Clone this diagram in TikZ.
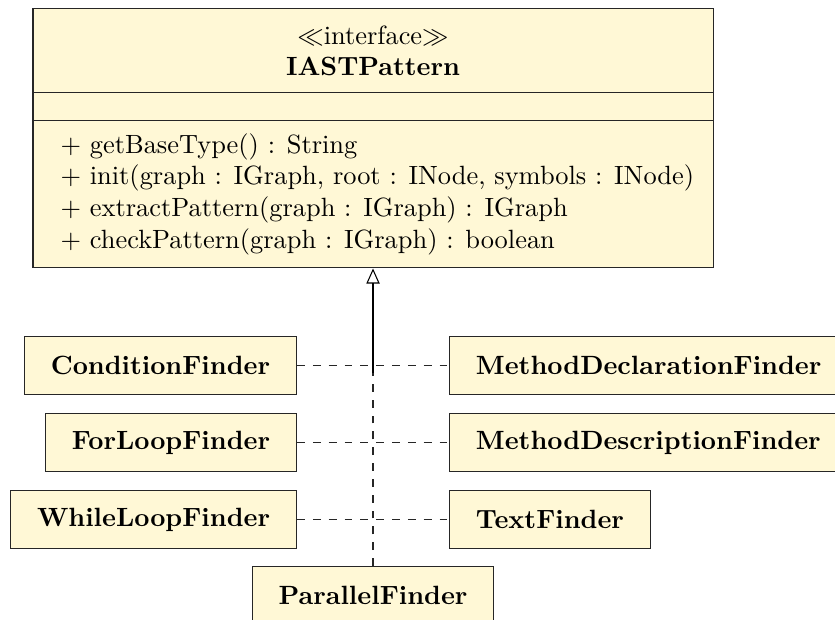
\documentclass[tikz,border=0pt]{standalone}
\usepackage{tikz}
\usetikzlibrary{arrows.meta,positioning,calc}

\definecolor{classfill}{RGB}{255,248,214}
\tikzset{
  classbox/.style={draw=black!85, fill=classfill},
  finder/.style={classbox, font=\bfseries, inner xsep=10pt, minimum height=22pt},
  realize/.style={dashed, black!85},
  generalize/.style={-{Triangle[open,width=5pt,length=5.7pt]}},
}

\begin{document}
\begin{tikzpicture}[x=1pt,y=1pt]
\useasboundingbox (0,0) rectangle (316.3,-234.5);

% interface box with its three compartments
\node[classbox, minimum width=257.6pt, minimum height=98.1pt, inner sep=0pt] (iast) at (141.3,-52.45) {};
\coordinate (div1) at (0,-35.2);
\coordinate (div2) at (0,-45.5);
\draw[black!85] (iast.west |- div1) -- (iast.east |- div1);
\draw[black!85] (iast.west |- div2) -- (iast.east |- div2);
\node[align=center] (title) at (141.3,-19.3) {$\ll$interface$\gg$\\\textbf{IASTPattern}};
\node[align=left, anchor=west] (ops) at (19.4,-73.5) {+ getBaseType() : String\\
+ init(graph : IGraph, root : INode, symbols : INode)\\
+ extractPattern(graph : IGraph) : IGraph\\
+ checkPattern(graph : IGraph) : boolean};

% implementing classes
\node[finder, anchor=east] (cond) at (112.5,-138.6) {ConditionFinder};
\node[finder, below left=6.7pt and 0pt of cond.south east] (forl) {ForLoopFinder};
\node[finder, below left=6.7pt and 0pt of forl.south east] (whilel) {WhileLoopFinder};
\node[finder, right=57.6pt of cond] (decl) {MethodDeclarationFinder};
\node[finder, below right=6.7pt and 0pt of decl.south west] (desc) {MethodDescriptionFinder};
\node[finder, below right=6.7pt and 0pt of desc.south west] (textf) {TextFinder};
\node[finder, anchor=north] (par) at ([yshift=-6.4pt]iast.south |- whilel.south) {ParallelFinder};

% realization lines
\coordinate (hub) at ([yshift=-2.7pt]iast.south |- cond.east);
\draw[generalize] (hub) -- (iast.south);
\draw[realize] (par.north) -- (hub);
\draw[realize] (cond) -- (decl);
\draw[realize] (forl) -- (desc);
\draw[realize] (whilel) -- (textf);
\end{tikzpicture}
\end{document}
